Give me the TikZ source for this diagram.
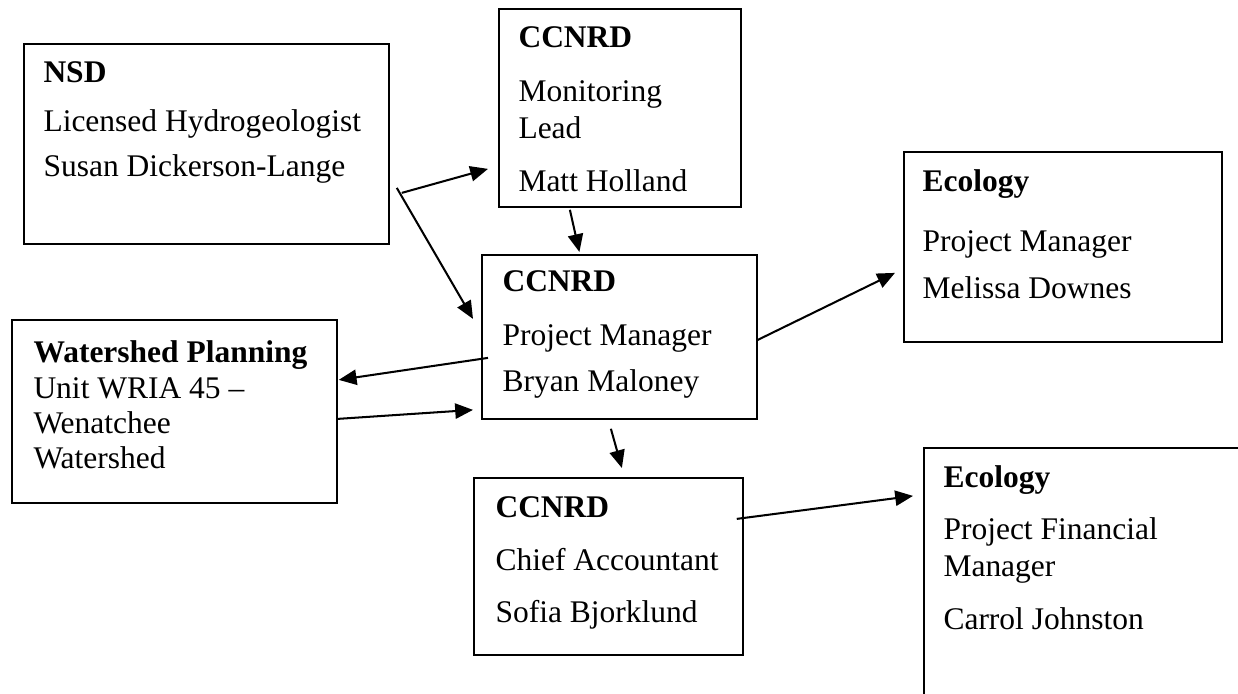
\documentclass[tikz,border=0pt]{standalone}
\usepackage{fontspec}
\setmainfont{Liberation Serif}
\usetikzlibrary{arrows.meta,positioning,calc}
\newcommand{\pxu}{0.3937pt}
\newcommand{\orgfont}{\fontsize{12.4}{13.78}\selectfont}
\newcommand{\orglines}[1]{\begin{tabular}[t]{@{}l@{}}#1\end{tabular}}
\tikzset{orgbox/.style={draw, rectangle, line width=0.7pt, anchor=north west, inner sep=0pt},
	orgtext/.style={anchor=base west, inner sep=0pt, font=\orgfont},
	link/.style={-{Triangle[length=7pt,width=6pt]}, line width=0.8pt}}

\begin{document}
\begin{tikzpicture}[x=0.3937pt, y=-0.3937pt]
			\useasboundingbox (0,0) rectangle (1238,694);
			\clip (0,0) rectangle (1238,694);
			
			\node[orgbox, minimum width=365*\pxu, minimum height=200*\pxu] (nsd) at (23,43) {};
			\node[orgbox, minimum width=242*\pxu, minimum height=198*\pxu] (mon) at (498,8) {};
			\node[orgbox, minimum width=275*\pxu, minimum height=164*\pxu] (mgr) at (481,254) {};
			\node[orgbox, minimum width=325*\pxu, minimum height=183*\pxu] (ws) at (11,319) {};
			\node[orgbox, minimum width=318*\pxu, minimum height=190*\pxu] (eco) at (903,151) {};
			\node[orgbox, minimum width=269*\pxu, minimum height=177*\pxu] (acc) at (473,477) {};
			\node[orgbox, minimum width=322*\pxu, minimum height=273*\pxu] (fin) at (923,447) {};
			
			
			\node[orgtext] (nsdtxt) at ([shift={(20,40)}]nsd.north west) {\orglines{\textbf{NSD}\\[5.5pt] Licensed Hydrogeologist\\[3.9pt] Susan Dickerson-Lange}};
			\node[orgtext] (montxt) at ([shift={(20,40)}]mon.north west) {\orglines{\textbf{CCNRD}\\[7.1pt] Monitoring\\[0.8pt] Lead\\[7.1pt] Matt Holland}};
			\node[orgtext] (mgrtxt) at ([shift={(21,38)}]mgr.north west) {\orglines{\textbf{CCNRD}\\[7.1pt] Project Manager\\[4.7pt] Bryan Maloney}};
			\node[orgtext] (wstxt) at ([shift={(22,44)}]ws.north west) {\orglines{\textbf{Watershed Planning}\\ Unit WRIA 45 --\\ Wenatchee\\ Watershed}};
			\node[orgtext] (ecotxt) at ([shift={(19,41)}]eco.north west) {\orglines{\textbf{Ecology}\\[9.8pt] Project Manager\\[4.7pt] Melissa Downes}};
			\node[orgtext] (acctxt) at ([shift={(22,40)}]acc.north west) {\orglines{\textbf{CCNRD}\\[7.1pt] Chief Accountant\\[6.7pt] Sofia Bjorklund}};
			\node[orgtext] (fintxt) at ([shift={(20,40)}]fin.north west) {\orglines{\textbf{Ecology}\\[6.7pt] Project Financial\\[0.8pt] Manager\\[7.1pt] Carrol Johnston}};
			
			
			% connectors
			\draw[link] ([shift={(12,49)}]nsd.east) -- ([shift={(-10,61)}]mon.west);
			\draw[link] ([shift={(7,44)}]nsd.east) -- ([shift={(-8,-18)}]mgr.west);
			\draw[link] ([shift={(-50,2)}]mon.south) -- ([shift={(-40,-2)}]mgr.north);
			\draw[link] ([shift={(7,21)}]mgr.west) -- ([shift={(1,-31.5)}]ws.east);
			\draw[link] ([shift={(0,7.5)}]ws.east) -- ([shift={(-8,73)}]mgr.west);
			\draw[link] ([shift={(0,3)}]mgr.east) -- ([shift={(-8,26)}]eco.west);
			\draw[link] ([shift={(-8.5,9)}]mgr.south) -- ([shift={(13.5,-9)}]acc.north);
			\draw[link] ([shift={(-7,-47.5)}]acc.east) -- ([shift={(-10,-88.5)}]fin.west);
		\end{tikzpicture}
\end{document}
